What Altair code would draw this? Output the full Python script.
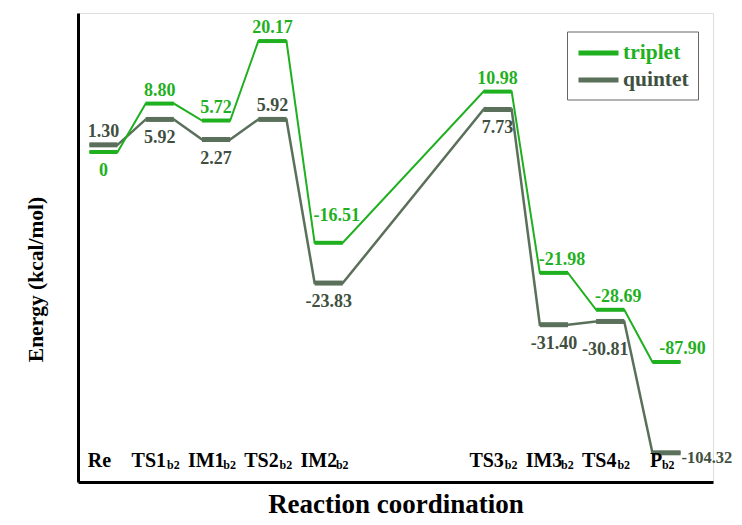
import altair as alt
import pandas as pd

# ---------------- data ----------------
categories = ["Re", "TS1", "IM1", "TS2", "IM2", "TS3", "IM3", "TS4", "P"]
subscripts = ["", "b2", "b2", "b2", "b2", "b2", "b2", "b2", "b2"]
coordinate = [0, 1, 2, 3, 4, 7, 8, 9, 10]
triplet = [0.0, 8.80, 5.72, 20.17, -16.51, 10.98, -21.98, -28.69, -87.90]
quintet = [1.30, 5.92, 2.27, 5.92, -23.83, 7.73, -31.40, -30.81, -104.32]
states = ["triplet", "quintet"]

# where each energy label sits relative to its level
triplet_label_side = ["b", "a", "a", "a", "ah", "a", "ar", "ar", "ar2"]
quintet_label_side = ["a", "b", "b", "a", "b", "b", "b", "bl", "r"]

# ---------------- style ----------------
FONT = "Liberation Serif"
GREEN = "#1fb01f"
QUINT = "#5a705a"
QUINT_TEXT = "#3f503f"
SIDES = {
    "a": dict(dx=0, dy=-8, align="center"),
    "ar": dict(dx=8, dy=-8, align="center"),
    "ar2": dict(dx=16, dy=-8, align="center"),
    "ah": dict(dx=8, dy=-22, align="center"),
    "b": dict(dx=0, dy=24, align="center"),
    "bl": dict(dx=-5, dy=34, align="center"),
    "r": dict(dx=15, dy=10, align="left", fontSize=16.5),
}


def fmt(v):
    return "0" if v == 0 else f"{v:.2f}"


rows = []
for state, vals, sides in [("triplet", triplet, triplet_label_side),
                           ("quintet", quintet, quintet_label_side)]:
    for c, s, x, v, sd in zip(categories, subscripts, coordinate, vals, sides):
        rows.append(dict(state=state, cat=c, sub=s, coord=x, energy=v,
                         label=fmt(v), side=sd))
df = pd.DataFrame(rows)
cats = pd.DataFrame(dict(cat=categories, sub=subscripts, coord=coordinate))

xscale = alt.Scale(domain=[-0.453, 10.826], nice=False, zero=False)
# broken energy axis: compressed between -31.40 and -87.90
yscale = alt.Scale(domain=[-109.6, -87.9, -31.4, 25.27],
                   range=[469, 349, 311.7, 0], nice=False, zero=False)

xaxis = alt.Axis(title="Reaction coordination", labels=False, ticks=False,
                 grid=False, domainColor="black", domainWidth=3,
                 titleFont=FONT, titleFontSize=27, titleFontWeight="bold",
                 titleColor="black", titleY=30, titleBaseline="alphabetic")
yaxis = alt.Axis(title="Energy (kcal/mol)", labels=False, ticks=False,
                 grid=False, domainColor="black", domainWidth=3,
                 titleFont=FONT, titleFontSize=21.5, titleFontWeight="bold",
                 titleColor="black", titleX=-36, titleY=266,
                 titleBaseline="alphabetic")
legend = alt.Legend(title=None, orient="none", legendX=489, legendY=18.5,
                    symbolType="M-1,0H3", symbolSize=400, symbolStrokeWidth=5,
                    labelFont=FONT, labelFontSize=21.5, labelFontWeight="bold",
                    labelColor=alt.ExprRef(expr=f"datum.label === 'triplet' ? '{GREEN}' : '{QUINT_TEXT}'"),
                    strokeColor="#666666", fillColor="white", padding=9,
                    rowPadding=4, labelOffset=22)
color = alt.Color("state:N", scale=alt.Scale(domain=states, range=[GREEN, QUINT]),
                  legend=legend)


def X(field):
    return alt.X(field, scale=xscale, axis=xaxis)


def Y(field):
    return alt.Y(field, scale=yscale, axis=yaxis)


base = alt.Chart(df).transform_calculate(
    xl="datum.coord - 0.25", xr="datum.coord + 0.25")

layers = []
# connectors (quintet under triplet)
for st, w in [("quintet", 2.5), ("triplet", 2)]:
    layers.append(
        base.transform_filter(f"datum.state === '{st}'")
        .transform_fold(["xl", "xr"], as_=["end", "xpos"])
        .mark_line(strokeWidth=w)
        .encode(x=X("xpos:Q"), y=Y("energy:Q"), color=color,
                order="xpos:Q")
    )
# levels
for st, w in [("quintet", 5), ("triplet", 4)]:
    layers.append(
        base.transform_filter(f"datum.state === '{st}'")
        .mark_rule(strokeWidth=w)
        .encode(x=X("xl:Q"), x2="xr:Q", y=Y("energy:Q"), color=color)
    )
# energy labels
for st, col in [("triplet", GREEN), ("quintet", QUINT_TEXT)]:
    for sd, p in SIDES.items():
        sub = df[(df.state == st) & (df.side == sd)]
        if len(sub) == 0:
            continue
        opts = dict(font=FONT, fontSize=18, fontWeight="bold", color=col,
                    baseline="alphabetic")
        opts.update(p)
        layers.append(
            alt.Chart(df).transform_filter(
                f"datum.state === '{st}' && datum.side === '{sd}'")
            .mark_text(**opts)
            .encode(x=X("coord:Q"), y=Y("energy:Q"), text="label:N")
        )

# category labels with subscripts
lab = alt.Chart(cats).transform_calculate(
    w="length(datum.cat) * 11.8 + (datum.sub ? 13 : 0)",
    xs="datum.coord + (-4 - datum.w / 2) / 56.3",
    xb="datum.coord + (-4 - datum.w / 2 + length(datum.cat) * 11.8) / 56.3",
)
layers.append(
    lab.mark_text(font=FONT, fontSize=20, fontWeight="bold", color="black",
                  align="left", baseline="alphabetic")
    .encode(x=X("xs:Q"), y=alt.value(454), text="cat:N")
)
layers.append(
    lab.mark_text(font=FONT, fontSize=12, fontWeight="bold", color="black",
                  align="left", baseline="alphabetic")
    .encode(x=X("xb:Q"), y=alt.value(455.5), text="sub:N")
)

chart = alt.layer(*layers).properties(
    width=635, height=469,
    autosize=alt.AutoSizeParams(type="none"),
    padding={"left": 70, "top": 5, "right": 21, "bottom": 35},
).configure_view(stroke=None).configure(background="white")

chart.save("out.html", embed_options={"renderer": "svg", "actions": False})
